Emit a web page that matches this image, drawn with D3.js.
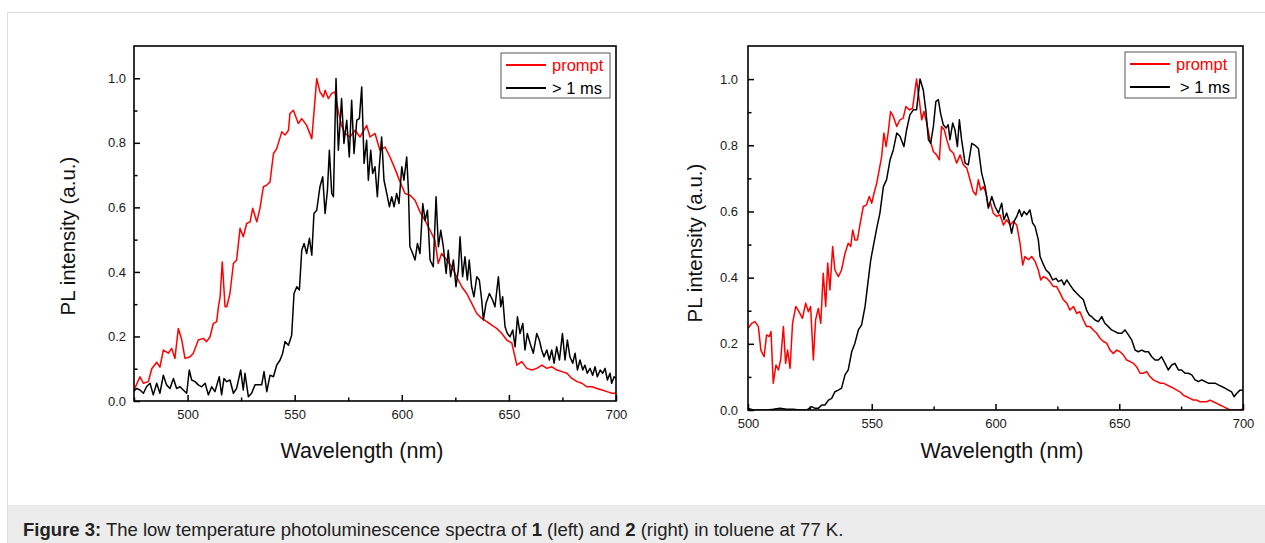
<!DOCTYPE html>
<html lang="en">
<head>
<meta charset="UTF-8">
<title>Low temperature PL spectra</title>
<script src="https://d3js.org/d3.v7.min.js"></script>
<style>
  body { margin: 0; background: #fff; }
  svg { display: block; font-family: Arial, "Liberation Sans", sans-serif; }
</style>
</head>
<body>
<svg id="fig" width="1265" height="543"></svg>
<script>
// ---- data: [wavelength nm, normalised PL intensity] ----
const leftPrompt = [[474.7,0.03],[477.8,0.075],[479.4,0.055],[481.7,0.06],[483.3,0.10],[485.6,0.12],[487.1,0.105],[488.7,0.158],[491,0.148],[492.6,0.163],[494.1,0.132],[495.7,0.225],[497.3,0.189],[498.8,0.132],[501.2,0.137],[502.7,0.148],[505,0.189],[507.4,0.194],[508.9,0.184],[510.5,0.199],[512,0.24],[513.6,0.246],[514.4,0.292],[515.2,0.323],[516.2,0.431],[517.5,0.292],[518.3,0.292],[519.8,0.333],[521.4,0.426],[522.9,0.437],[524.5,0.535],[526,0.509],[527.6,0.55],[529.2,0.555],[530.4,0.597],[532.3,0.555],[533.8,0.597],[535.4,0.664],[537,0.669],[538.5,0.679],[540.1,0.767],[541.6,0.782],[544,0.834],[545.5,0.824],[547.1,0.839],[547.8,0.891],[549.4,0.901],[551.7,0.86],[553.3,0.875],[555.6,0.854],[558,0.813],[560.3,0.999],[561.8,0.958],[563.4,0.942],[564.2,0.963],[565.7,0.937],[567.3,0.953],[568.8,0.958],[570.4,0.896],[571.9,0.854],[573.5,0.829],[575.8,0.818],[578.2,0.839],[580.5,0.818],[583.6,0.854],[585.2,0.818],[587.5,0.829],[589.8,0.777],[592.2,0.787],[594.5,0.756],[596.8,0.72],[599.2,0.679],[601.5,0.643],[603.8,0.638],[606.2,0.622],[608.5,0.586],[610.8,0.56],[613.2,0.529],[615.5,0.498],[617,0.426],[618.6,0.457],[621,0.437],[623.3,0.416],[625.6,0.385],[628,0.354],[630.3,0.333],[632.7,0.302],[635,0.271],[637.3,0.256],[639.7,0.246],[642,0.235],[644.3,0.225],[646.7,0.209],[649,0.189],[651.4,0.179],[653.7,0.111],[656,0.122],[658.4,0.101],[660.7,0.096],[663,0.101],[665.4,0.111],[667.7,0.101],[670.1,0.106],[672.4,0.096],[674.7,0.091],[677.1,0.086],[679.4,0.07],[681.8,0.06],[684.1,0.055],[686.4,0.044],[688.8,0.044],[691.1,0.039],[693.5,0.034],[695.8,0.029],[698.1,0.024],[700,0.024]];

const leftDelayed = [[474.7,0.029],[476.3,0.039],[477.8,0.034],[479.4,0.024],[480.9,0.045],[482.5,0.055],[484,0.019],[485.6,0.055],[487.1,0.024],[488.7,0.08],[490.2,0.05],[491.8,0.039],[493.4,0.07],[494.9,0.039],[496.5,0.044],[498,0.034],[499.6,0.024],[500.8,0.096],[501.9,0.065],[503.5,0.06],[505,0.05],[506.6,0.044],[508.2,0.055],[509.7,0.019],[511.3,0.044],[512.8,0.029],[514.8,0.075],[515.9,0.019],[517,0.07],[518.3,0.06],[519.8,0.065],[521.4,0.024],[522.9,0.039],[524.8,0.096],[526,0.034],[526.8,0.086],[528.4,0.013],[529.9,0.024],[531.5,0.05],[533,0.05],[534.6,0.05],[535.7,0.091],[537,0.029],[538.5,0.08],[540.1,0.075],[541.6,0.111],[543.2,0.127],[544.4,0.148],[545.5,0.184],[547.1,0.173],[548.6,0.204],[549.7,0.333],[551,0.354],[552.2,0.344],[553.3,0.467],[554.4,0.488],[555.6,0.457],[556.9,0.504],[558,0.452],[559,0.581],[560.3,0.591],[561.8,0.664],[563.1,0.695],[564.2,0.581],[565.3,0.653],[566.2,0.777],[567.3,0.643],[568.1,0.633],[569.3,0.999],[570.4,0.777],[571.9,0.937],[573,0.798],[574.3,0.87],[575.5,0.756],[576.6,0.932],[577.7,0.767],[579,0.87],[580.2,0.875],[581.3,0.973],[582.4,0.736],[583.6,0.808],[584.4,0.684],[585.5,0.777],[586.4,0.705],[587.5,0.726],[588.6,0.633],[589.5,0.726],[590.6,0.818],[591.7,0.684],[593,0.643],[594.2,0.602],[595.3,0.633],[596.4,0.602],[597.6,0.643],[598.7,0.612],[600,0.726],[601,0.684],[602.3,0.756],[603.1,0.653],[603.8,0.478],[605.1,0.457],[606.2,0.437],[607.3,0.488],[608.5,0.457],[609.8,0.612],[610.9,0.56],[612,0.591],[613.2,0.437],[614.7,0.416],[616,0.633],[617.1,0.478],[618.2,0.529],[619.4,0.478],[620.7,0.395],[621.7,0.467],[622.8,0.385],[624.1,0.437],[625.3,0.354],[626.4,0.406],[627.2,0.509],[628.4,0.385],[629.5,0.447],[630.6,0.375],[631.5,0.437],[632.6,0.354],[633.7,0.323],[635,0.385],[636.2,0.375],[637.3,0.313],[638.1,0.251],[639.3,0.302],[640.9,0.333],[642.4,0.313],[643.5,0.292],[645.1,0.385],[646.2,0.292],[647.1,0.323],[648.2,0.23],[649.3,0.209],[650.5,0.199],[651.8,0.22],[652.9,0.168],[654,0.261],[655.2,0.209],[656.5,0.24],[657.5,0.158],[658.6,0.209],[659.9,0.179],[661.4,0.148],[663,0.209],[664.2,0.189],[665.3,0.158],[666.4,0.137],[667.7,0.158],[668.9,0.127],[670,0.158],[671.1,0.117],[672.3,0.168],[673.6,0.127],[675,0.209],[676.2,0.127],[677.3,0.189],[678.5,0.137],[679.8,0.117],[680.9,0.148],[682,0.096],[683.2,0.127],[684.5,0.096],[685.5,0.111],[686.6,0.086],[687.9,0.101],[689.1,0.08],[690.2,0.106],[691.3,0.075],[692.6,0.096],[693.8,0.086],[694.9,0.101],[696,0.065],[697.2,0.086],[698,0.055],[699.1,0.075],[700,0.07]];

const rightPrompt = [[500.1,0.247],[501.5,0.262],[502.8,0.267],[504.2,0.252],[505.2,0.181],[506.5,0.161],[507.5,0.227],[508.6,0.222],[509.3,0.237],[510.2,0.081],[511.3,0.136],[512.3,0.121],[513.2,0.151],[514.3,0.252],[515.2,0.141],[516,0.181],[517,0.126],[518,0.262],[519.3,0.313],[520.6,0.297],[522,0.277],[523.3,0.323],[524.4,0.297],[525.3,0.313],[526.4,0.151],[527.3,0.272],[528.4,0.307],[529.4,0.262],[530.4,0.413],[531.4,0.313],[532.2,0.444],[533.1,0.363],[534.2,0.494],[535.1,0.423],[536.5,0.403],[537.8,0.423],[539.2,0.474],[540.5,0.504],[541.5,0.494],[542.3,0.544],[543.2,0.514],[544.2,0.514],[545.2,0.559],[546.6,0.615],[547.9,0.62],[549,0.645],[550,0.625],[550.9,0.655],[552,0.685],[552.9,0.721],[554,0.766],[554.9,0.837],[555.8,0.796],[556.7,0.842],[557.6,0.902],[558.7,0.887],[560.1,0.857],[561.4,0.877],[562.7,0.882],[563.8,0.917],[565.2,0.907],[566.5,0.912],[568.1,1.0],[570.2,0.877],[571.1,0.902],[572.2,0.867],[573.5,0.817],[574.9,0.781],[576.2,0.771],[577.3,0.756],[578.2,0.857],[579.3,0.847],[580.3,0.817],[581.6,0.786],[583,0.776],[584.3,0.746],[585.7,0.771],[587,0.741],[588.4,0.731],[589.7,0.696],[591,0.66],[592.1,0.65],[593.1,0.696],[594,0.665],[595.1,0.675],[596.2,0.655],[597.1,0.615],[598,0.625],[599.1,0.595],[600.5,0.585],[601.8,0.59],[603.2,0.559],[604.5,0.575],[605.9,0.559],[607.2,0.57],[608.6,0.559],[609.9,0.504],[611,0.438],[611.9,0.464],[613.3,0.454],[614.6,0.464],[616,0.449],[617.3,0.423],[618.3,0.393],[619.3,0.403],[620.7,0.398],[622,0.388],[623.4,0.373],[624.7,0.373],[626.1,0.353],[627.4,0.333],[628.8,0.323],[630.1,0.302],[631.5,0.313],[632.8,0.292],[634.1,0.297],[635.5,0.272],[636.8,0.252],[638.2,0.252],[639.5,0.242],[640.9,0.232],[642.2,0.217],[643.6,0.207],[644.9,0.202],[646.3,0.181],[647.6,0.171],[649,0.181],[650.3,0.176],[651.7,0.166],[653,0.151],[654.4,0.146],[655.7,0.141],[657,0.131],[658.4,0.111],[659.7,0.111],[661.1,0.116],[662.4,0.101],[663.8,0.091],[665.1,0.086],[666.5,0.081],[667.8,0.081],[669.2,0.076],[670.5,0.071],[671.9,0.066],[673.2,0.06],[674.5,0.055],[675.9,0.045],[677.2,0.04],[678.6,0.035],[679.9,0.03],[681.3,0.03],[682.6,0.025],[684,0.025],[685.3,0.025],[686.7,0.03],[688,0.025],[689.4,0.02],[690.7,0.015],[692.1,0.01],[693.4,0.005],[694.8,0],[696.1,0],[698.1,0],[700,0.002]];

const rightDelayed = [[500.1,0.005],[502.1,0],[504.8,0],[507.5,0],[510.2,0.002],[512.9,0.005],[515.6,0.002],[518.3,0.002],[521,0],[523.7,0],[525.7,0.01],[527.1,0.005],[528.4,0.005],[529.8,0.015],[531.1,0.015],[532.5,0.03],[533.8,0.035],[535.1,0.055],[536.5,0.06],[537.8,0.066],[539.2,0.106],[540.5,0.121],[541.9,0.176],[543.2,0.202],[544.6,0.242],[545.9,0.257],[547.3,0.313],[548.6,0.393],[549.6,0.454],[550.6,0.494],[552,0.549],[553.3,0.595],[554.7,0.675],[556,0.696],[557.4,0.756],[558.7,0.786],[560.1,0.837],[561.4,0.827],[563,0.796],[564.1,0.847],[565.4,0.892],[566.8,0.907],[568.1,0.907],[569.5,1.0],[570.8,0.968],[571.9,0.902],[572.9,0.817],[573.8,0.806],[574.9,0.857],[575.9,0.932],[576.9,0.938],[577.8,0.897],[578.9,0.862],[580,0.852],[580.9,0.862],[581.6,0.817],[582.7,0.867],[583.6,0.847],[584.6,0.796],[585.4,0.877],[586.3,0.817],[587.7,0.746],[589,0.741],[590.4,0.806],[591.7,0.8],[593.1,0.79],[594.4,0.716],[595.8,0.675],[597.1,0.61],[598.5,0.645],[599.8,0.615],[601.2,0.595],[602.5,0.625],[603.4,0.575],[604.5,0.595],[605.6,0.57],[606.5,0.534],[607.5,0.57],[608.6,0.585],[609.6,0.605],[610.6,0.585],[611.5,0.6],[612.6,0.59],[613.9,0.605],[615,0.565],[616,0.554],[617.3,0.514],[618,0.464],[619.1,0.444],[620.4,0.423],[621.8,0.413],[623.1,0.393],[624.4,0.398],[625.4,0.388],[626.7,0.393],[627.7,0.378],[628.8,0.393],[630.1,0.378],[631.5,0.363],[632.8,0.353],[634.1,0.343],[635.5,0.333],[636.8,0.302],[637.9,0.287],[638.9,0.282],[640.2,0.272],[641.6,0.267],[642.9,0.282],[644.2,0.262],[645.6,0.252],[646.9,0.242],[648.3,0.237],[649.6,0.232],[651,0.232],[652.3,0.242],[653.7,0.227],[655,0.212],[656.4,0.181],[657.7,0.176],[659.1,0.181],[660.4,0.176],[661.8,0.176],[663.1,0.161],[664.5,0.151],[665.8,0.151],[667.1,0.161],[668.5,0.141],[669.8,0.121],[671.2,0.136],[672.5,0.141],[673.9,0.121],[675.2,0.121],[676.6,0.111],[677.9,0.111],[679.3,0.106],[680.6,0.091],[682,0.086],[683.3,0.091],[684.7,0.086],[686,0.081],[687.3,0.081],[688.7,0.081],[690,0.076],[691.4,0.071],[692.7,0.066],[694.1,0.06],[695.4,0.055],[696.4,0.04],[697.4,0.05],[698.8,0.06],[700,0.06]];

const seriesNames = ["prompt", "> 1 ms"];
const seriesColors = ["#ff0000", "#000000"];
const yTicks = [0, 0.2, 0.4, 0.6, 0.8, 1.0];
const yMinorTicks = [0.1, 0.3, 0.5, 0.7, 0.9];
const leftXTicks = [500, 550, 600, 650, 700];
const leftXMinor = [475, 525, 575, 625, 675];
const rightXTicks = [500, 550, 600, 650, 700];
const rightXMinor = [525, 575, 625, 675];
const xTitle = "Wavelength (nm)";
const yTitle = "PL intensity (a.u.)";

const svg = d3.select("#fig");
const W = 1265, H = 543;

// page frame + caption band
svg.append("rect").attr("width", W).attr("height", H).attr("fill", "#fff");
svg.append("path")
  .attr("d", `M7.5,${H} V12.5 H${W}`)
  .attr("fill", "none").attr("stroke", "#dcdcdc");
svg.append("rect").attr("x", 8).attr("y", 505).attr("width", W - 8).attr("height", H - 505)
  .attr("fill", "#ececec");

const cap = svg.append("text").attr("x", 23).attr("y", 536)
  .attr("font-size", 18.5).attr("fill", "#222");
cap.append("tspan").attr("font-weight", "bold").text("Figure 3:");
cap.append("tspan").text(" The low temperature photoluminescence spectra of ");
cap.append("tspan").attr("font-weight", "bold").text("1");
cap.append("tspan").text(" (left) and ");
cap.append("tspan").attr("font-weight", "bold").text("2");
cap.append("tspan").text(" (right) in toluene at 77 K.");

function drawPanel(cfg) {
  const x = d3.scaleLinear().domain(cfg.xDomain).range([cfg.x0, cfg.x1]);
  const y = d3.scaleLinear().domain([0, 1.1]).range([cfg.y1, cfg.y0]);
  const g = svg.append("g");

  const clipId = "clip" + cfg.id;
  g.append("clipPath").attr("id", clipId).append("rect")
    .attr("x", cfg.x0).attr("y", cfg.y0)
    .attr("width", cfg.x1 - cfg.x0).attr("height", cfg.y1 - cfg.y0);

  const line = d3.line().x(d => x(d[0])).y(d => y(d[1]));
  cfg.series.forEach((s, i) => {
    g.append("path")
      .datum(s)
      .attr("clip-path", `url(#${clipId})`)
      .attr("d", line)
      .attr("fill", "none")
      .attr("stroke", seriesColors[i])
      .attr("stroke-width", 1.5)
      .attr("stroke-linejoin", "round");
  });

  // axes, ticks pointing inward
  g.append("g").attr("transform", `translate(${cfg.x0},0)`)
    .call(d3.axisLeft(y).tickValues(yTicks).tickFormat(d3.format(".1f"))
      .tickSizeInner(-6).tickSizeOuter(0).tickPadding(cfg.yPad));
  g.append("g").attr("transform", `translate(${cfg.x0},0)`)
    .call(d3.axisLeft(y).tickValues(yMinorTicks).tickFormat("")
      .tickSizeInner(-3.5).tickSizeOuter(0));
  g.append("g").attr("transform", `translate(0,${cfg.y1})`)
    .call(d3.axisBottom(x).tickValues(cfg.xTicks).tickFormat(d3.format("d"))
      .tickSizeInner(-6).tickSizeOuter(0).tickPadding(cfg.xPad));
  g.append("g").attr("transform", `translate(0,${cfg.y1})`)
    .call(d3.axisBottom(x).tickValues(cfg.xMinor).tickFormat("")
      .tickSizeInner(-3.5).tickSizeOuter(0));

  g.selectAll(".domain").remove();
  g.selectAll(".tick line").attr("stroke", "#000").attr("stroke-width", 1.5);
  g.selectAll(".tick text").attr("font-size", 13).attr("fill", "#1a1a1a")
    .attr("font-family", "Arial, 'Liberation Sans', sans-serif");

  g.append("rect")
    .attr("x", cfg.x0).attr("y", cfg.y0)
    .attr("width", cfg.x1 - cfg.x0).attr("height", cfg.y1 - cfg.y0)
    .attr("fill", "none").attr("stroke", "#000").attr("stroke-width", 1.6);

  // titles
  g.append("text")
    .attr("x", cfg.xTitleX).attr("y", 458)
    .attr("text-anchor", "middle").attr("font-size", 21.5).attr("fill", "#111")
    .text(xTitle);
  g.append("text")
    .attr("transform", `translate(${cfg.yTitleX},${cfg.yTitleY}) rotate(-90)`)
    .attr("text-anchor", "middle").attr("font-size", 20.5).attr("fill", "#111")
    .text(yTitle);

  // legend
  const L = cfg.legend;
  g.append("rect").attr("x", L.x).attr("y", L.y).attr("width", L.w).attr("height", L.h)
    .attr("fill", "#fff").attr("stroke", "#555").attr("stroke-width", 1);
  seriesNames.forEach((name, i) => {
    const ly = L.y + 12 + i * 23;
    g.append("line")
      .attr("x1", L.x + 5).attr("x2", L.x + 45).attr("y1", ly).attr("y2", ly)
      .attr("stroke", seriesColors[i]).attr("stroke-width", 1.8);
    g.append("text")
      .attr("x", L.x + 51 + (i === 1 ? cfg.legendShift : 0)).attr("y", ly + 6)
      .attr("font-size", 16.5).attr("fill", seriesColors[i])
      .text(name);
  });
}

drawPanel({
  id: "L", x0: 134, x1: 616, y0: 46, y1: 401, xDomain: [475, 700],
  xTicks: leftXTicks, xMinor: leftXMinor, yPad: 8, xPad: 9,
  xTitleX: 362, yTitleX: 75, yTitleY: 236,
  legend: { x: 501, y: 53, w: 109, h: 45 }, legendShift: 0,
  series: [leftPrompt, leftDelayed]
});

drawPanel({
  id: "R", x0: 748, x1: 1243, y0: 46, y1: 410, xDomain: [500, 700],
  xTicks: rightXTicks, xMinor: rightXMinor, yPad: 10, xPad: 9,
  xTitleX: 1002, yTitleX: 702, yTitleY: 243,
  legend: { x: 1125, y: 52, w: 111, h: 46 }, legendShift: 4,
  series: [rightPrompt, rightDelayed]
});
</script>
</body>
</html>
